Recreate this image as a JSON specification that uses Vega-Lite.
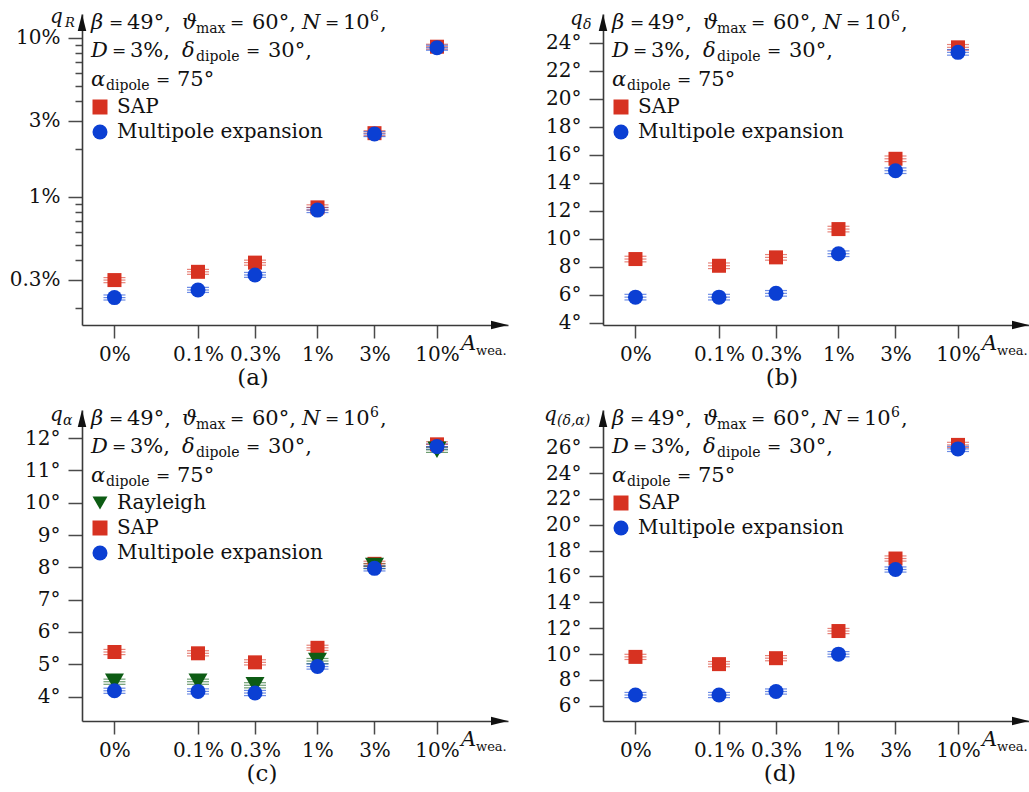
{
 "$schema": "https://vega.github.io/schema/vega-lite/v6.json",
 "autosize": {"type": "none"},
 "padding": {"left": 82, "top": 14, "right": 947, "bottom": 778},
 "background": "white",
 "datasets": {
  "qR": [
   {"series": "SAP", "A_label": "0%", "A": 0.02, "q": 0.299, "lo": 0.288, "hi": 0.31},
   {"series": "SAP", "A_label": "0.1%", "A": 0.1, "q": 0.337, "lo": 0.325, "hi": 0.349},
   {"series": "SAP", "A_label": "0.3%", "A": 0.3, "q": 0.385, "lo": 0.371, "hi": 0.399},
   {"series": "SAP", "A_label": "1%", "A": 1, "q": 0.857, "lo": 0.826, "hi": 0.889},
   {"series": "SAP", "A_label": "3%", "A": 3, "q": 2.51, "lo": 2.42, "hi": 2.6},
   {"series": "SAP", "A_label": "10%", "A": 10, "q": 8.78, "lo": 8.47, "hi": 9.1},
   {"series": "Multipole expansion", "A_label": "0%", "A": 0.02, "q": 0.232, "lo": 0.224, "hi": 0.241},
   {"series": "Multipole expansion", "A_label": "0.1%", "A": 0.1, "q": 0.259, "lo": 0.25, "hi": 0.269},
   {"series": "Multipole expansion", "A_label": "0.3%", "A": 0.3, "q": 0.322, "lo": 0.311, "hi": 0.334},
   {"series": "Multipole expansion", "A_label": "1%", "A": 1, "q": 0.824, "lo": 0.795, "hi": 0.854},
   {"series": "Multipole expansion", "A_label": "3%", "A": 3, "q": 2.48, "lo": 2.39, "hi": 2.57},
   {"series": "Multipole expansion", "A_label": "10%", "A": 10, "q": 8.65, "lo": 8.34, "hi": 8.97}
  ],
  "qd": [
   {"series": "SAP", "A_label": "0%", "A": 0.02, "q": 8.55, "lo": 8.35, "hi": 8.75},
   {"series": "SAP", "A_label": "0.1%", "A": 0.1, "q": 8.07, "lo": 7.87, "hi": 8.27},
   {"series": "SAP", "A_label": "0.3%", "A": 0.3, "q": 8.67, "lo": 8.47, "hi": 8.87},
   {"series": "SAP", "A_label": "1%", "A": 1, "q": 10.69, "lo": 10.49, "hi": 10.89},
   {"series": "SAP", "A_label": "3%", "A": 3, "q": 15.71, "lo": 15.51, "hi": 15.91},
   {"series": "SAP", "A_label": "10%", "A": 10, "q": 23.67, "lo": 23.47, "hi": 23.87},
   {"series": "Multipole expansion", "A_label": "0%", "A": 0.02, "q": 5.83, "lo": 5.63, "hi": 6.03},
   {"series": "Multipole expansion", "A_label": "0.1%", "A": 0.1, "q": 5.83, "lo": 5.63, "hi": 6.03},
   {"series": "Multipole expansion", "A_label": "0.3%", "A": 0.3, "q": 6.1, "lo": 5.9, "hi": 6.3},
   {"series": "Multipole expansion", "A_label": "1%", "A": 1, "q": 8.93, "lo": 8.73, "hi": 9.13},
   {"series": "Multipole expansion", "A_label": "3%", "A": 3, "q": 14.86, "lo": 14.66, "hi": 15.06},
   {"series": "Multipole expansion", "A_label": "10%", "A": 10, "q": 23.31, "lo": 23.11, "hi": 23.51}
  ],
  "qa": [
   {"series": "SAP", "A_label": "0%", "A": 0.02, "q": 5.38, "lo": 5.3, "hi": 5.46},
   {"series": "SAP", "A_label": "0.1%", "A": 0.1, "q": 5.34, "lo": 5.26, "hi": 5.42},
   {"series": "SAP", "A_label": "0.3%", "A": 0.3, "q": 5.06, "lo": 4.98, "hi": 5.14},
   {"series": "SAP", "A_label": "1%", "A": 1, "q": 5.51, "lo": 5.43, "hi": 5.59},
   {"series": "SAP", "A_label": "3%", "A": 3, "q": 8.11, "lo": 8.03, "hi": 8.19},
   {"series": "SAP", "A_label": "10%", "A": 10, "q": 11.81, "lo": 11.73, "hi": 11.89},
   {"series": "Rayleigh", "A_label": "0%", "A": 0.02, "q": 4.46, "lo": 4.38, "hi": 4.54},
   {"series": "Rayleigh", "A_label": "0.1%", "A": 0.1, "q": 4.46, "lo": 4.38, "hi": 4.54},
   {"series": "Rayleigh", "A_label": "0.3%", "A": 0.3, "q": 4.35, "lo": 4.27, "hi": 4.43},
   {"series": "Rayleigh", "A_label": "1%", "A": 1, "q": 5.1, "lo": 5.02, "hi": 5.18},
   {"series": "Rayleigh", "A_label": "3%", "A": 3, "q": 8.04, "lo": 7.96, "hi": 8.12},
   {"series": "Rayleigh", "A_label": "10%", "A": 10, "q": 11.64, "lo": 11.56, "hi": 11.72},
   {"series": "Multipole expansion", "A_label": "0%", "A": 0.02, "q": 4.18, "lo": 4.1, "hi": 4.26},
   {"series": "Multipole expansion", "A_label": "0.1%", "A": 0.1, "q": 4.16, "lo": 4.08, "hi": 4.24},
   {"series": "Multipole expansion", "A_label": "0.3%", "A": 0.3, "q": 4.11, "lo": 4.03, "hi": 4.19},
   {"series": "Multipole expansion", "A_label": "1%", "A": 1, "q": 4.93, "lo": 4.85, "hi": 5.01},
   {"series": "Multipole expansion", "A_label": "3%", "A": 3, "q": 7.97, "lo": 7.89, "hi": 8.05},
   {"series": "Multipole expansion", "A_label": "10%", "A": 10, "q": 11.74, "lo": 11.66, "hi": 11.82}
  ],
  "qda": [
   {"series": "SAP", "A_label": "0%", "A": 0.02, "q": 9.78, "lo": 9.58, "hi": 9.98},
   {"series": "SAP", "A_label": "0.1%", "A": 0.1, "q": 9.22, "lo": 9.02, "hi": 9.42},
   {"series": "SAP", "A_label": "0.3%", "A": 0.3, "q": 9.68, "lo": 9.48, "hi": 9.88},
   {"series": "SAP", "A_label": "1%", "A": 1, "q": 11.78, "lo": 11.58, "hi": 11.98},
   {"series": "SAP", "A_label": "3%", "A": 3, "q": 17.39, "lo": 17.19, "hi": 17.59},
   {"series": "SAP", "A_label": "10%", "A": 10, "q": 26.18, "lo": 25.98, "hi": 26.38},
   {"series": "Multipole expansion", "A_label": "0%", "A": 0.02, "q": 6.83, "lo": 6.63, "hi": 7.03},
   {"series": "Multipole expansion", "A_label": "0.1%", "A": 0.1, "q": 6.83, "lo": 6.63, "hi": 7.03},
   {"series": "Multipole expansion", "A_label": "0.3%", "A": 0.3, "q": 7.1, "lo": 6.9, "hi": 7.3},
   {"series": "Multipole expansion", "A_label": "1%", "A": 1, "q": 9.99, "lo": 9.79, "hi": 10.19},
   {"series": "Multipole expansion", "A_label": "3%", "A": 3, "q": 16.54, "lo": 16.34, "hi": 16.74},
   {"series": "Multipole expansion", "A_label": "10%", "A": 10, "q": 25.87, "lo": 25.67, "hi": 26.07}
  ]
 },
 "concat": [
  {
   "width": 426, "height": 311,
   "data": {"name": "qR"},
   "resolve": {"axis": {"x": "independent", "y": "independent"}, "legend": {"color": "independent", "shape": "independent"}},
   "layer": [
    {"mark": {"type": "tick", "orient": "horizontal", "size": 22, "thickness": 1.2, "opacity": 0.6}, "encoding": {"x": {"field": "A", "type": "quantitative", "axis": null}, "y": {"field": "lo", "type": "quantitative", "axis": {"orient": "left", "values": [0.2, 0.4, 0.5, 0.6, 0.7, 0.8, 0.9, 2, 4, 5, 6, 7, 8, 9], "labels": false, "domain": false, "tickSize": 7, "title": null}}, "color": {"field": "series", "type": "nominal", "legend": null}}},
    {"mark": {"type": "tick", "orient": "horizontal", "size": 22, "thickness": 1.2, "opacity": 0.6}, "encoding": {"x": {"field": "A", "type": "quantitative", "axis": null}, "y": {"field": "hi", "type": "quantitative", "axis": null}, "color": {"field": "series", "type": "nominal", "legend": null}}},
    {"mark": {"type": "tick", "orient": "horizontal", "size": 22, "thickness": 1.2, "opacity": 0.6}, "encoding": {"x": {"field": "A", "type": "quantitative", "axis": null}, "y": {"field": "q", "type": "quantitative", "axis": null}, "color": {"field": "series", "type": "nominal", "legend": null}}},
    {"mark": {"type": "point", "filled": true, "opacity": 1, "strokeWidth": 0},
     "encoding": {
      "x": {"field": "A", "type": "quantitative", "scale": {"type": "log", "domain": [0.0107, 39.3], "nice": false}, "axis": {"values": [0.02, 0.1, 0.3, 1, 3, 10], "labelExpr": "datum.value < 0.05 ? '0%' : datum.value + '%'", "title": null, "labelFlush": false, "labelOverlap": false}},
      "y": {"field": "q", "type": "quantitative", "scale": {"type": "log", "domain": [0.156, 14.1], "nice": false}, "axis": {"orient": "left", "values": [0.3, 1, 3, 10], "labelExpr": "datum.value + '%'", "title": null, "labelOverlap": false}},
      "color": {"field": "series", "type": "nominal", "scale": {"domain": ["SAP", "Multipole expansion"], "range": ["#d73221", "#0b3fd3"]}, "legend": {"title": null, "orient": "none", "legendX": 8, "legendY": 83}},
      "shape": {"field": "series", "type": "nominal", "scale": {"domain": ["SAP", "Multipole expansion"], "range": ["square", "circle"]}, "legend": {"title": null, "orient": "none", "legendX": 8, "legendY": 83}},
      "size": {"condition": [{"test": "datum.series === 'Rayleigh'", "value": 361}, {"test": "datum.series === 'SAP'", "value": 196}], "value": 225}
     }},
    {"data": {"values": [{}]},
     "encoding": {"x": {"datum": 0.0107, "type": "quantitative", "axis": null}, "y": {"datum": 14.1, "type": "quantitative", "axis": null}},
     "layer": [
      {"mark": {"type": "point", "shape": "M-0.5,2L0,0L0.5,2Z", "size": 289, "filled": true, "color": "#111", "opacity": 1, "strokeWidth": 0}},
      {"mark": {"type": "text", "text": "q", "dx": -32, "dy": 9, "fontSize": 20, "fontStyle": "italic"}},
      {"mark": {"type": "text", "text": "R", "dx": -17, "dy": 13, "fontSize": 13, "fontStyle": "italic"}},
      {"mark": {"type": "text", "text": "β", "dx": 9, "dy": 15, "fontStyle": "italic"}},
      {"mark": {"type": "text", "text": "=", "dx": 27, "dy": 14, "fontSize": 17}},
      {"mark": {"type": "text", "text": "49°,", "dx": 45, "dy": 15}},
      {"mark": {"type": "text", "text": "ϑ", "dx": 100, "dy": 15, "fontStyle": "italic"}},
      {"mark": {"type": "text", "text": "max", "dx": 114, "dy": 19, "fontSize": 14}},
      {"mark": {"type": "text", "text": "=", "dx": 148, "dy": 14, "fontSize": 17}},
      {"mark": {"type": "text", "text": "60°,", "dx": 170, "dy": 15}},
      {"mark": {"type": "text", "text": "N", "dx": 220, "dy": 15, "fontStyle": "italic"}},
      {"mark": {"type": "text", "text": "=", "dx": 243, "dy": 14, "fontSize": 17}},
      {"mark": {"type": "text", "text": "10", "dx": 261, "dy": 15}},
      {"mark": {"type": "text", "text": "6", "dx": 288, "dy": 7, "fontSize": 14}},
      {"mark": {"type": "text", "text": ",", "dx": 298, "dy": 15}},
      {"mark": {"type": "text", "text": "D", "dx": 9, "dy": 43, "fontStyle": "italic"}},
      {"mark": {"type": "text", "text": "=", "dx": 30, "dy": 42, "fontSize": 17}},
      {"mark": {"type": "text", "text": "3%,", "dx": 48, "dy": 43}},
      {"mark": {"type": "text", "text": "δ", "dx": 100, "dy": 43, "fontStyle": "italic"}},
      {"mark": {"type": "text", "text": "dipole", "dx": 114, "dy": 47, "fontSize": 14}},
      {"mark": {"type": "text", "text": "=", "dx": 164, "dy": 42, "fontSize": 17}},
      {"mark": {"type": "text", "text": "30°,", "dx": 186, "dy": 43}},
      {"mark": {"type": "text", "text": "α", "dx": 9, "dy": 72, "fontStyle": "italic"}},
      {"mark": {"type": "text", "text": "dipole", "dx": 24, "dy": 76, "fontSize": 14}},
      {"mark": {"type": "text", "text": "=", "dx": 74, "dy": 71, "fontSize": 17}},
      {"mark": {"type": "text", "text": "75°", "dx": 95, "dy": 72}}
     ]},
    {"data": {"values": [{}]},
     "encoding": {"x": {"datum": 39.3, "type": "quantitative", "axis": null}, "y": {"datum": 0.156, "type": "quantitative", "axis": null}},
     "layer": [
      {"mark": {"type": "point", "shape": "M-2,-0.5L0,0L-2,0.5Z", "size": 289, "filled": true, "color": "#111", "opacity": 1, "strokeWidth": 0}},
      {"mark": {"type": "text", "text": "A", "dx": -47, "dy": 25, "fontStyle": "italic"}},
      {"mark": {"type": "text", "text": "wea.", "dx": -32, "dy": 30, "fontSize": 13}},
      {"mark": {"type": "text", "text": "(a)", "dx": -255, "dy": 53, "align": "center", "baseline": "middle", "fontSize": 23}}
     ]}
   ]
  },
  {
   "width": 426, "height": 311,
   "data": {"name": "qd"},
   "resolve": {"axis": {"x": "independent", "y": "independent"}, "legend": {"color": "independent", "shape": "independent"}},
   "layer": [
    {"mark": {"type": "tick", "orient": "horizontal", "size": 22, "thickness": 1.2, "opacity": 0.6}, "encoding": {"x": {"field": "A", "type": "quantitative", "axis": null}, "y": {"field": "lo", "type": "quantitative", "axis": null}, "color": {"field": "series", "type": "nominal", "legend": null}}},
    {"mark": {"type": "tick", "orient": "horizontal", "size": 22, "thickness": 1.2, "opacity": 0.6}, "encoding": {"x": {"field": "A", "type": "quantitative", "axis": null}, "y": {"field": "hi", "type": "quantitative", "axis": null}, "color": {"field": "series", "type": "nominal", "legend": null}}},
    {"mark": {"type": "tick", "orient": "horizontal", "size": 22, "thickness": 1.2, "opacity": 0.6}, "encoding": {"x": {"field": "A", "type": "quantitative", "axis": null}, "y": {"field": "q", "type": "quantitative", "axis": null}, "color": {"field": "series", "type": "nominal", "legend": null}}},
    {"mark": {"type": "point", "filled": true, "opacity": 1, "strokeWidth": 0},
     "encoding": {
      "x": {"field": "A", "type": "quantitative", "scale": {"type": "log", "domain": [0.0107, 39.3], "nice": false}, "axis": {"values": [0.02, 0.1, 0.3, 1, 3, 10], "labelExpr": "datum.value < 0.05 ? '0%' : datum.value + '%'", "title": null, "labelFlush": false, "labelOverlap": false}},
      "y": {"field": "q", "type": "quantitative", "scale": {"domain": [3.84, 26.05], "nice": false, "zero": false}, "axis": {"values": [4, 6, 8, 10, 12, 14, 16, 18, 20, 22, 24], "labelExpr": "datum.value + '°'", "title": null, "labelOverlap": false}},
      "color": {"field": "series", "type": "nominal", "scale": {"domain": ["SAP", "Multipole expansion"], "range": ["#d73221", "#0b3fd3"]}, "legend": {"title": null, "orient": "none", "legendX": 8, "legendY": 83}},
      "shape": {"field": "series", "type": "nominal", "scale": {"domain": ["SAP", "Multipole expansion"], "range": ["square", "circle"]}, "legend": {"title": null, "orient": "none", "legendX": 8, "legendY": 83}},
      "size": {"condition": [{"test": "datum.series === 'Rayleigh'", "value": 361}, {"test": "datum.series === 'SAP'", "value": 196}], "value": 225}
     }},
    {"data": {"values": [{}]},
     "encoding": {"x": {"datum": 0.0107, "type": "quantitative", "axis": null}, "y": {"datum": 26.05, "type": "quantitative", "axis": null}},
     "layer": [
      {"mark": {"type": "point", "shape": "M-0.5,2L0,0L0.5,2Z", "size": 289, "filled": true, "color": "#111", "opacity": 1, "strokeWidth": 0}},
      {"mark": {"type": "text", "text": "q", "dx": -33, "dy": 11, "fontSize": 20, "fontStyle": "italic"}},
      {"mark": {"type": "text", "text": "δ", "dx": -20, "dy": 15, "fontSize": 14, "fontStyle": "italic"}},
      {"mark": {"type": "text", "text": "β", "dx": 9, "dy": 15, "fontStyle": "italic"}},
      {"mark": {"type": "text", "text": "=", "dx": 27, "dy": 14, "fontSize": 17}},
      {"mark": {"type": "text", "text": "49°,", "dx": 45, "dy": 15}},
      {"mark": {"type": "text", "text": "ϑ", "dx": 100, "dy": 15, "fontStyle": "italic"}},
      {"mark": {"type": "text", "text": "max", "dx": 114, "dy": 19, "fontSize": 14}},
      {"mark": {"type": "text", "text": "=", "dx": 148, "dy": 14, "fontSize": 17}},
      {"mark": {"type": "text", "text": "60°,", "dx": 170, "dy": 15}},
      {"mark": {"type": "text", "text": "N", "dx": 220, "dy": 15, "fontStyle": "italic"}},
      {"mark": {"type": "text", "text": "=", "dx": 243, "dy": 14, "fontSize": 17}},
      {"mark": {"type": "text", "text": "10", "dx": 261, "dy": 15}},
      {"mark": {"type": "text", "text": "6", "dx": 288, "dy": 7, "fontSize": 14}},
      {"mark": {"type": "text", "text": ",", "dx": 298, "dy": 15}},
      {"mark": {"type": "text", "text": "D", "dx": 9, "dy": 43, "fontStyle": "italic"}},
      {"mark": {"type": "text", "text": "=", "dx": 30, "dy": 42, "fontSize": 17}},
      {"mark": {"type": "text", "text": "3%,", "dx": 48, "dy": 43}},
      {"mark": {"type": "text", "text": "δ", "dx": 100, "dy": 43, "fontStyle": "italic"}},
      {"mark": {"type": "text", "text": "dipole", "dx": 114, "dy": 47, "fontSize": 14}},
      {"mark": {"type": "text", "text": "=", "dx": 164, "dy": 42, "fontSize": 17}},
      {"mark": {"type": "text", "text": "30°,", "dx": 186, "dy": 43}},
      {"mark": {"type": "text", "text": "α", "dx": 9, "dy": 72, "fontStyle": "italic"}},
      {"mark": {"type": "text", "text": "dipole", "dx": 24, "dy": 76, "fontSize": 14}},
      {"mark": {"type": "text", "text": "=", "dx": 74, "dy": 71, "fontSize": 17}},
      {"mark": {"type": "text", "text": "75°", "dx": 95, "dy": 72}}
     ]},
    {"data": {"values": [{}]},
     "encoding": {"x": {"datum": 39.3, "type": "quantitative", "axis": null}, "y": {"datum": 3.84, "type": "quantitative", "axis": null}},
     "layer": [
      {"mark": {"type": "point", "shape": "M-2,-0.5L0,0L-2,0.5Z", "size": 289, "filled": true, "color": "#111", "opacity": 1, "strokeWidth": 0}},
      {"mark": {"type": "text", "text": "A", "dx": -47, "dy": 25, "fontStyle": "italic"}},
      {"mark": {"type": "text", "text": "wea.", "dx": -32, "dy": 30, "fontSize": 13}},
      {"mark": {"type": "text", "text": "(b)", "dx": -247, "dy": 53, "align": "center", "baseline": "middle", "fontSize": 23}}
     ]}
   ]
  },
  {
   "width": 426, "height": 311,
   "data": {"name": "qa"},
   "resolve": {"axis": {"x": "independent", "y": "independent"}, "legend": {"color": "independent", "shape": "independent"}},
   "layer": [
    {"mark": {"type": "tick", "orient": "horizontal", "size": 22, "thickness": 1.2, "opacity": 0.6}, "encoding": {"x": {"field": "A", "type": "quantitative", "axis": null}, "y": {"field": "lo", "type": "quantitative", "axis": null}, "color": {"field": "series", "type": "nominal", "legend": null}}},
    {"mark": {"type": "tick", "orient": "horizontal", "size": 22, "thickness": 1.2, "opacity": 0.6}, "encoding": {"x": {"field": "A", "type": "quantitative", "axis": null}, "y": {"field": "hi", "type": "quantitative", "axis": null}, "color": {"field": "series", "type": "nominal", "legend": null}}},
    {"mark": {"type": "tick", "orient": "horizontal", "size": 22, "thickness": 1.2, "opacity": 0.6}, "encoding": {"x": {"field": "A", "type": "quantitative", "axis": null}, "y": {"field": "q", "type": "quantitative", "axis": null}, "color": {"field": "series", "type": "nominal", "legend": null}}},
    {"mark": {"type": "point", "filled": true, "opacity": 1, "strokeWidth": 0},
     "encoding": {
      "x": {"field": "A", "type": "quantitative", "scale": {"type": "log", "domain": [0.0107, 39.3], "nice": false}, "axis": {"values": [0.02, 0.1, 0.3, 1, 3, 10], "labelExpr": "datum.value < 0.05 ? '0%' : datum.value + '%'", "title": null, "labelFlush": false, "labelOverlap": false}},
      "y": {"field": "q", "type": "quantitative", "scale": {"domain": [3.244, 12.873], "nice": false, "zero": false}, "axis": {"values": [4, 5, 6, 7, 8, 9, 10, 11, 12], "labelExpr": "datum.value + '°'", "title": null, "labelOverlap": false}},
      "color": {"field": "series", "type": "nominal", "scale": {"domain": ["Rayleigh", "SAP", "Multipole expansion"], "range": ["#0d5c14", "#d73221", "#0b3fd3"]}, "legend": {"title": null, "orient": "none", "legendX": 8, "legendY": 83}},
      "shape": {"field": "series", "type": "nominal", "scale": {"domain": ["Rayleigh", "SAP", "Multipole expansion"], "range": ["triangle-down", "square", "circle"]}, "legend": {"title": null, "orient": "none", "legendX": 8, "legendY": 83}},
      "size": {"condition": [{"test": "datum.series === 'Rayleigh'", "value": 361}, {"test": "datum.series === 'SAP'", "value": 196}], "value": 225}
     }},
    {"data": {"values": [{}]},
     "encoding": {"x": {"datum": 0.0107, "type": "quantitative", "axis": null}, "y": {"datum": 12.873, "type": "quantitative", "axis": null}},
     "layer": [
      {"mark": {"type": "point", "shape": "M-0.5,2L0,0L0.5,2Z", "size": 289, "filled": true, "color": "#111", "opacity": 1, "strokeWidth": 0}},
      {"mark": {"type": "text", "text": "q", "dx": -32, "dy": 11, "fontSize": 20, "fontStyle": "italic"}},
      {"mark": {"type": "text", "text": "α", "dx": -19, "dy": 15, "fontSize": 14, "fontStyle": "italic"}},
      {"mark": {"type": "text", "text": "β", "dx": 9, "dy": 15, "fontStyle": "italic"}},
      {"mark": {"type": "text", "text": "=", "dx": 27, "dy": 14, "fontSize": 17}},
      {"mark": {"type": "text", "text": "49°,", "dx": 45, "dy": 15}},
      {"mark": {"type": "text", "text": "ϑ", "dx": 100, "dy": 15, "fontStyle": "italic"}},
      {"mark": {"type": "text", "text": "max", "dx": 114, "dy": 19, "fontSize": 14}},
      {"mark": {"type": "text", "text": "=", "dx": 148, "dy": 14, "fontSize": 17}},
      {"mark": {"type": "text", "text": "60°,", "dx": 170, "dy": 15}},
      {"mark": {"type": "text", "text": "N", "dx": 220, "dy": 15, "fontStyle": "italic"}},
      {"mark": {"type": "text", "text": "=", "dx": 243, "dy": 14, "fontSize": 17}},
      {"mark": {"type": "text", "text": "10", "dx": 261, "dy": 15}},
      {"mark": {"type": "text", "text": "6", "dx": 288, "dy": 7, "fontSize": 14}},
      {"mark": {"type": "text", "text": ",", "dx": 298, "dy": 15}},
      {"mark": {"type": "text", "text": "D", "dx": 9, "dy": 43, "fontStyle": "italic"}},
      {"mark": {"type": "text", "text": "=", "dx": 30, "dy": 42, "fontSize": 17}},
      {"mark": {"type": "text", "text": "3%,", "dx": 48, "dy": 43}},
      {"mark": {"type": "text", "text": "δ", "dx": 100, "dy": 43, "fontStyle": "italic"}},
      {"mark": {"type": "text", "text": "dipole", "dx": 114, "dy": 47, "fontSize": 14}},
      {"mark": {"type": "text", "text": "=", "dx": 164, "dy": 42, "fontSize": 17}},
      {"mark": {"type": "text", "text": "30°,", "dx": 186, "dy": 43}},
      {"mark": {"type": "text", "text": "α", "dx": 9, "dy": 72, "fontStyle": "italic"}},
      {"mark": {"type": "text", "text": "dipole", "dx": 24, "dy": 76, "fontSize": 14}},
      {"mark": {"type": "text", "text": "=", "dx": 74, "dy": 71, "fontSize": 17}},
      {"mark": {"type": "text", "text": "75°", "dx": 95, "dy": 72}}
     ]},
    {"data": {"values": [{}]},
     "encoding": {"x": {"datum": 39.3, "type": "quantitative", "axis": null}, "y": {"datum": 3.244, "type": "quantitative", "axis": null}},
     "layer": [
      {"mark": {"type": "point", "shape": "M-2,-0.5L0,0L-2,0.5Z", "size": 289, "filled": true, "color": "#111", "opacity": 1, "strokeWidth": 0}},
      {"mark": {"type": "text", "text": "A", "dx": -47, "dy": 25, "fontStyle": "italic"}},
      {"mark": {"type": "text", "text": "wea.", "dx": -32, "dy": 30, "fontSize": 13}},
      {"mark": {"type": "text", "text": "(c)", "dx": -246, "dy": 53, "align": "center", "baseline": "middle", "fontSize": 23}}
     ]}
   ]
  },
  {
   "width": 426, "height": 311,
   "data": {"name": "qda"},
   "resolve": {"axis": {"x": "independent", "y": "independent"}, "legend": {"color": "independent", "shape": "independent"}},
   "layer": [
    {"mark": {"type": "tick", "orient": "horizontal", "size": 22, "thickness": 1.2, "opacity": 0.6}, "encoding": {"x": {"field": "A", "type": "quantitative", "axis": null}, "y": {"field": "lo", "type": "quantitative", "axis": null}, "color": {"field": "series", "type": "nominal", "legend": null}}},
    {"mark": {"type": "tick", "orient": "horizontal", "size": 22, "thickness": 1.2, "opacity": 0.6}, "encoding": {"x": {"field": "A", "type": "quantitative", "axis": null}, "y": {"field": "hi", "type": "quantitative", "axis": null}, "color": {"field": "series", "type": "nominal", "legend": null}}},
    {"mark": {"type": "tick", "orient": "horizontal", "size": 22, "thickness": 1.2, "opacity": 0.6}, "encoding": {"x": {"field": "A", "type": "quantitative", "axis": null}, "y": {"field": "q", "type": "quantitative", "axis": null}, "color": {"field": "series", "type": "nominal", "legend": null}}},
    {"mark": {"type": "point", "filled": true, "opacity": 1, "strokeWidth": 0},
     "encoding": {
      "x": {"field": "A", "type": "quantitative", "scale": {"type": "log", "domain": [0.0107, 39.3], "nice": false}, "axis": {"values": [0.02, 0.1, 0.3, 1, 3, 10], "labelExpr": "datum.value < 0.05 ? '0%' : datum.value + '%'", "title": null, "labelFlush": false, "labelOverlap": false}},
      "y": {"field": "q", "type": "quantitative", "scale": {"domain": [4.82, 28.88], "nice": false, "zero": false}, "axis": {"values": [6, 8, 10, 12, 14, 16, 18, 20, 22, 24, 26], "labelExpr": "datum.value + '°'", "title": null, "labelOverlap": false}},
      "color": {"field": "series", "type": "nominal", "scale": {"domain": ["SAP", "Multipole expansion"], "range": ["#d73221", "#0b3fd3"]}, "legend": {"title": null, "orient": "none", "legendX": 8, "legendY": 83}},
      "shape": {"field": "series", "type": "nominal", "scale": {"domain": ["SAP", "Multipole expansion"], "range": ["square", "circle"]}, "legend": {"title": null, "orient": "none", "legendX": 8, "legendY": 83}},
      "size": {"condition": [{"test": "datum.series === 'Rayleigh'", "value": 361}, {"test": "datum.series === 'SAP'", "value": 196}], "value": 225}
     }},
    {"data": {"values": [{}]},
     "encoding": {"x": {"datum": 0.0107, "type": "quantitative", "axis": null}, "y": {"datum": 28.88, "type": "quantitative", "axis": null}},
     "layer": [
      {"mark": {"type": "point", "shape": "M-0.5,2L0,0L0.5,2Z", "size": 289, "filled": true, "color": "#111", "opacity": 1, "strokeWidth": 0}},
      {"mark": {"type": "text", "text": "q", "dx": -59, "dy": 11, "fontSize": 20, "fontStyle": "italic"}},
      {"mark": {"type": "text", "text": "(δ,α)", "dx": -46, "dy": 15, "fontSize": 14, "fontStyle": "italic"}},
      {"mark": {"type": "text", "text": "β", "dx": 9, "dy": 15, "fontStyle": "italic"}},
      {"mark": {"type": "text", "text": "=", "dx": 27, "dy": 14, "fontSize": 17}},
      {"mark": {"type": "text", "text": "49°,", "dx": 45, "dy": 15}},
      {"mark": {"type": "text", "text": "ϑ", "dx": 100, "dy": 15, "fontStyle": "italic"}},
      {"mark": {"type": "text", "text": "max", "dx": 114, "dy": 19, "fontSize": 14}},
      {"mark": {"type": "text", "text": "=", "dx": 148, "dy": 14, "fontSize": 17}},
      {"mark": {"type": "text", "text": "60°,", "dx": 170, "dy": 15}},
      {"mark": {"type": "text", "text": "N", "dx": 220, "dy": 15, "fontStyle": "italic"}},
      {"mark": {"type": "text", "text": "=", "dx": 243, "dy": 14, "fontSize": 17}},
      {"mark": {"type": "text", "text": "10", "dx": 261, "dy": 15}},
      {"mark": {"type": "text", "text": "6", "dx": 288, "dy": 7, "fontSize": 14}},
      {"mark": {"type": "text", "text": ",", "dx": 298, "dy": 15}},
      {"mark": {"type": "text", "text": "D", "dx": 9, "dy": 43, "fontStyle": "italic"}},
      {"mark": {"type": "text", "text": "=", "dx": 30, "dy": 42, "fontSize": 17}},
      {"mark": {"type": "text", "text": "3%,", "dx": 48, "dy": 43}},
      {"mark": {"type": "text", "text": "δ", "dx": 100, "dy": 43, "fontStyle": "italic"}},
      {"mark": {"type": "text", "text": "dipole", "dx": 114, "dy": 47, "fontSize": 14}},
      {"mark": {"type": "text", "text": "=", "dx": 164, "dy": 42, "fontSize": 17}},
      {"mark": {"type": "text", "text": "30°,", "dx": 186, "dy": 43}},
      {"mark": {"type": "text", "text": "α", "dx": 9, "dy": 72, "fontStyle": "italic"}},
      {"mark": {"type": "text", "text": "dipole", "dx": 24, "dy": 76, "fontSize": 14}},
      {"mark": {"type": "text", "text": "=", "dx": 74, "dy": 71, "fontSize": 17}},
      {"mark": {"type": "text", "text": "75°", "dx": 95, "dy": 72}}
     ]},
    {"data": {"values": [{}]},
     "encoding": {"x": {"datum": 39.3, "type": "quantitative", "axis": null}, "y": {"datum": 4.82, "type": "quantitative", "axis": null}},
     "layer": [
      {"mark": {"type": "point", "shape": "M-2,-0.5L0,0L-2,0.5Z", "size": 289, "filled": true, "color": "#111", "opacity": 1, "strokeWidth": 0}},
      {"mark": {"type": "text", "text": "A", "dx": -47, "dy": 25, "fontStyle": "italic"}},
      {"mark": {"type": "text", "text": "wea.", "dx": -32, "dy": 30, "fontSize": 13}},
      {"mark": {"type": "text", "text": "(d)", "dx": -249, "dy": 53, "align": "center", "baseline": "middle", "fontSize": 23}}
     ]}
   ]
  }
 ],
 "columns": 2,
 "spacing": {"row": 85, "column": 95},
 "bounds": "flush",
 "resolve": {"scale": {"color": "independent", "shape": "independent"}, "legend": {"color": "independent", "shape": "independent"}},
 "config": {
  "view": {"stroke": null},
  "font": "DejaVu Serif",
  "text": {"font": "DejaVu Serif", "fontSize": 21, "color": "#111", "align": "left", "baseline": "alphabetic"},
  "axis": {"grid": false, "domainColor": "#3a3a3a", "domainWidth": 1.6, "tickColor": "#4a4a4a", "tickWidth": 1.5, "labelFont": "DejaVu Serif", "labelFontSize": 20, "labelColor": "#111"},
  "axisX": {"tickSize": 13, "labelPadding": 6},
  "axisY": {"tickSize": 14, "labelPadding": 8},
  "legend": {"labelFont": "DejaVu Serif", "labelFontSize": 20, "labelColor": "#111", "labelLimit": 400, "rowPadding": 5, "padding": 0, "labelOffset": 7, "symbolSize": 225, "symbolStrokeWidth": 0, "symbolOpacity": 1}
 }
}
